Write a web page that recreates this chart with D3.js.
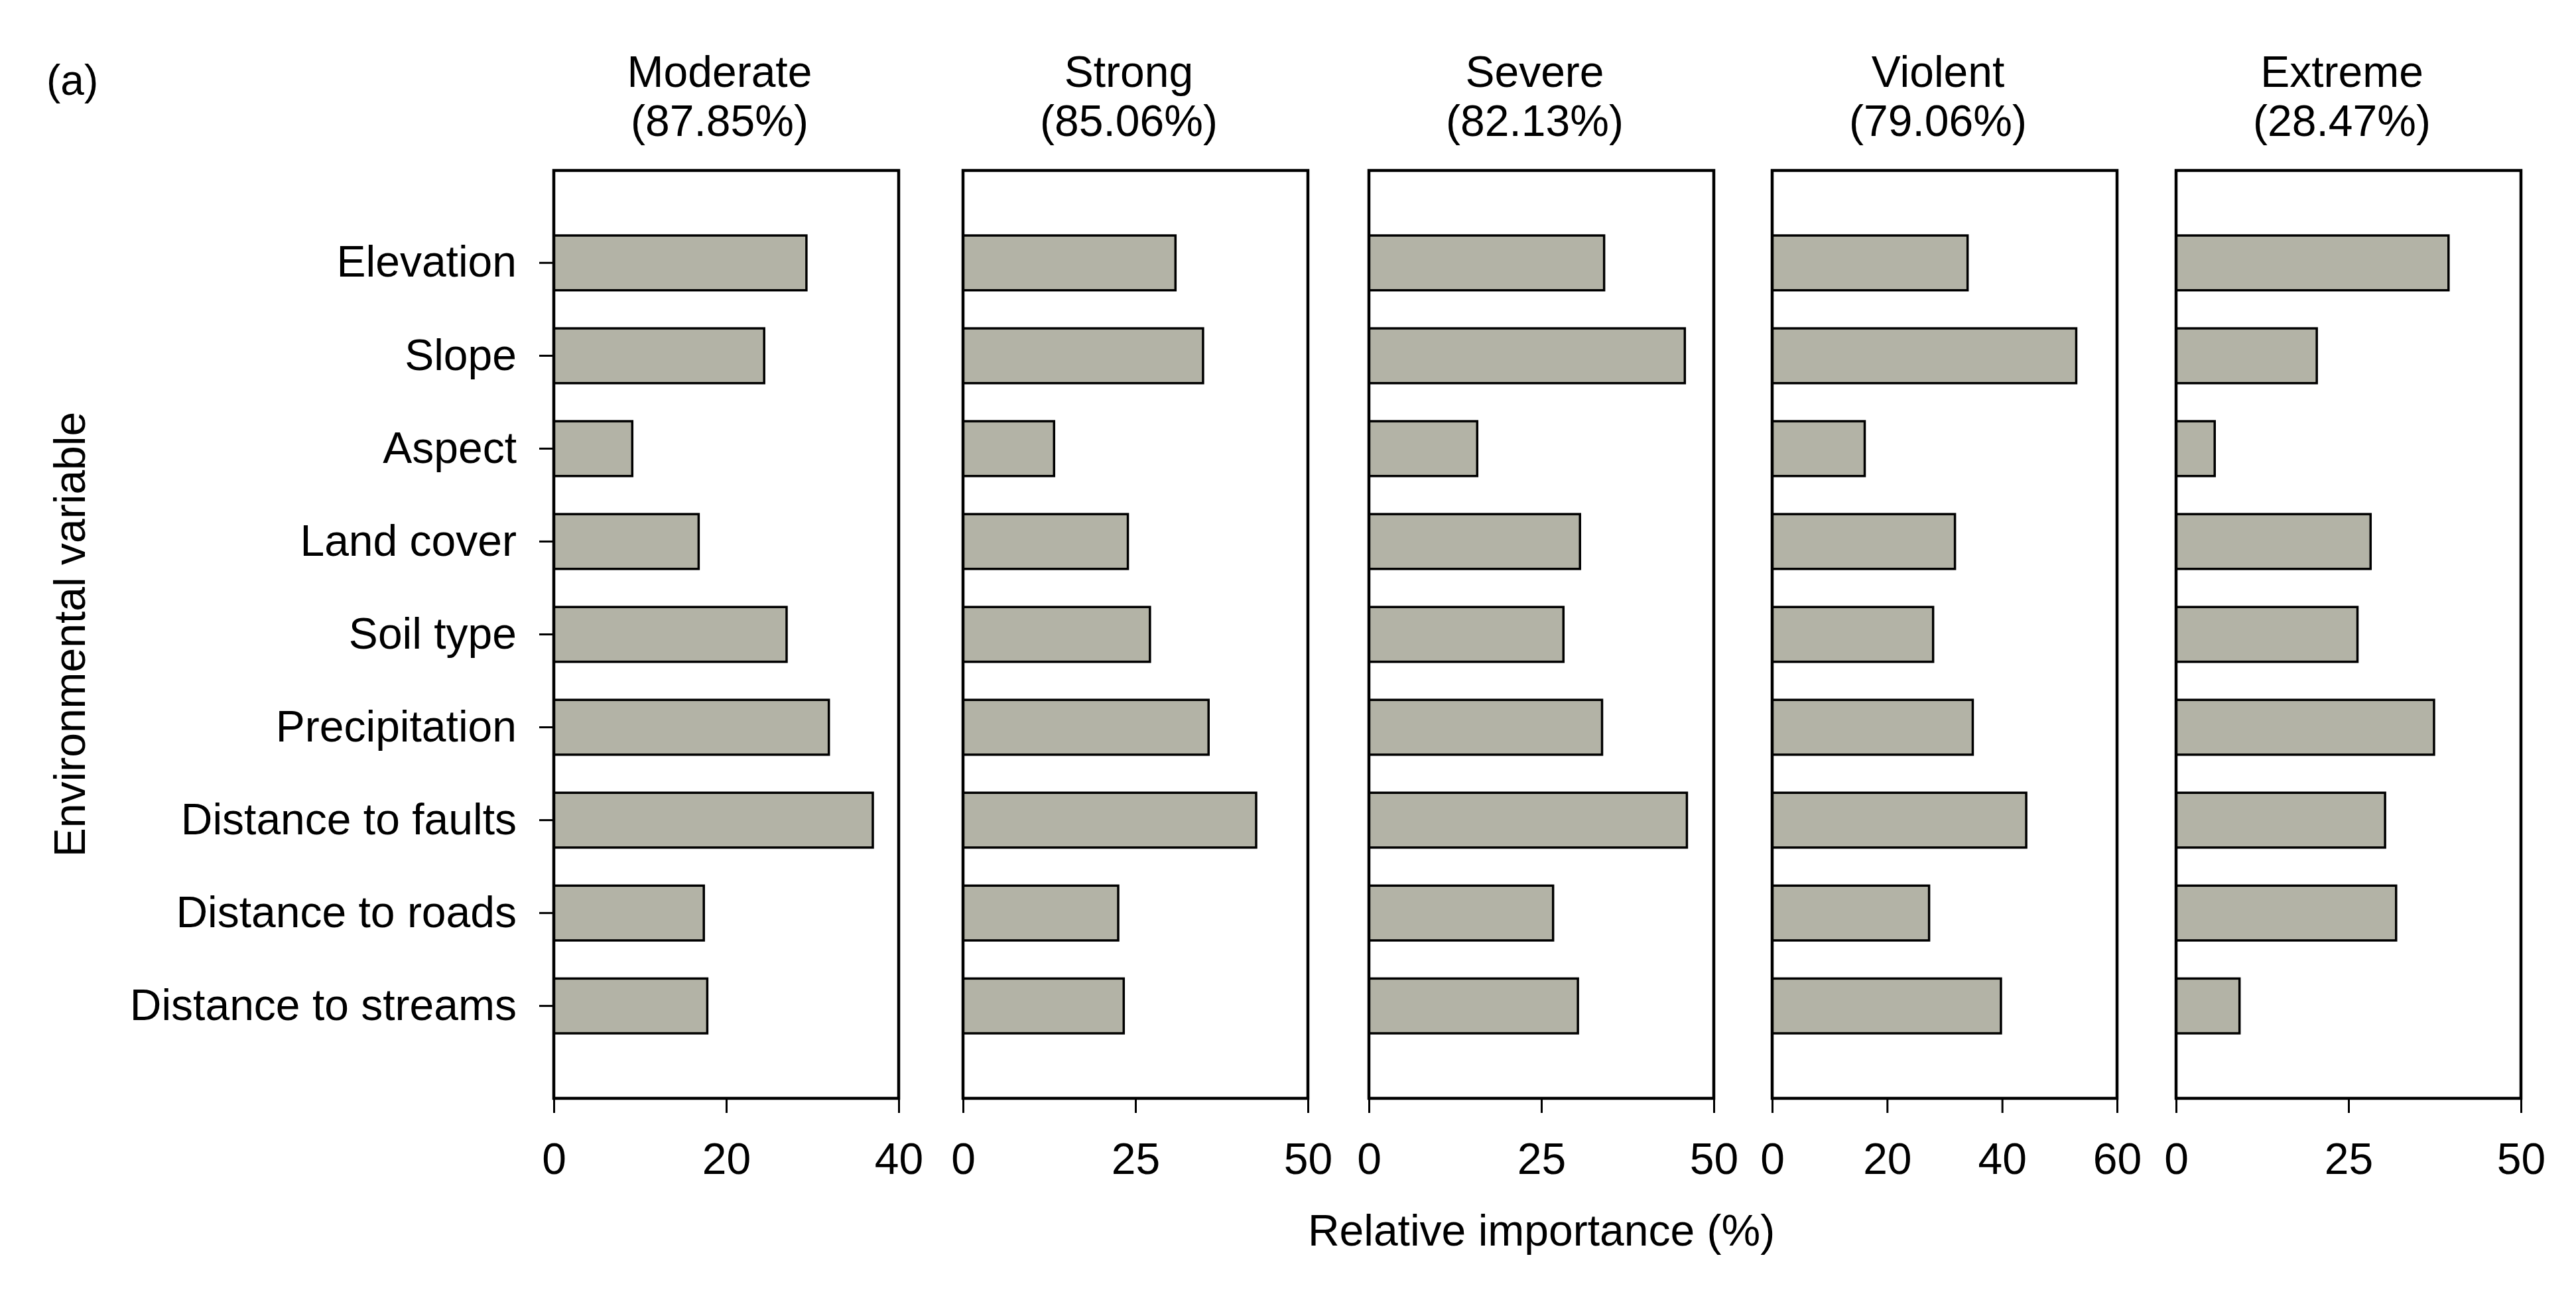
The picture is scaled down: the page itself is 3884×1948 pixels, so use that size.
<!DOCTYPE html>
<html>
<head>
<meta charset="utf-8">
<script src="https://cdn.jsdelivr.net/npm/d3@7"></script>
<style>
  body { margin: 0; background: #fff; }
  text { font-family: "Liberation Sans", Arial, sans-serif; fill: #000; }
</style>
</head>
<body>
<svg id="chart" width="3884" height="1948"></svg>
<script>
// relative importance of environmental variables, one panel per landslide class

const variables = ["Elevation", "Slope", "Aspect", "Land cover", "Soil type",
                   "Precipitation", "Distance to faults", "Distance to roads", "Distance to streams"];
const classes   = ["Moderate", "Strong", "Severe", "Violent", "Extreme"];
const accuracy  = [87.85, 85.06, 82.13, 79.06, 28.47];

const moderate = [29.3, 24.4,  9.1, 16.8, 27.0, 31.9, 37.0, 17.4, 17.8];
const strong   = [30.8, 34.8, 13.2, 23.9, 27.1, 35.6, 42.5, 22.5, 23.3];
const severe   = [34.1, 45.8, 15.7, 30.6, 28.2, 33.8, 46.1, 26.7, 30.3];
const violent  = [34.0, 52.9, 16.1, 31.8, 28.0, 34.9, 44.2, 27.3, 39.8];
const extreme  = [39.5, 20.4,  5.6, 28.2, 26.3, 37.4, 30.3, 31.9,  9.2];

const xMax   = [40, 50, 50, 60, 50];
const xTicks = [[0, 20, 40], [0, 25, 50], [0, 25, 50], [0, 20, 40, 60], [0, 25, 50]];

const series = [moderate, strong, severe, violent, extreme];

// layout
const yTop = 257, yBot = 1656;            // panel box
const pw = 520;                           // panel width
const lefts = [835, 1452, 2064, 2672, 3281];
const fsz = 66;
const barFill = "#b3b3a6";

const svg = d3.select("#chart");
svg.append("rect").attr("width", 3884).attr("height", 1948).attr("fill", "#fff");

const y = d3.scaleBand().domain(variables).range([yTop, yBot])
            .paddingInner(0.41).paddingOuter(0.7);

for (let i = 0; i < classes.length; i++) {
  const g = svg.append("g").attr("transform", "translate(" + lefts[i] + ",0)");
  const x = d3.scaleLinear().domain([0, xMax[i]]).range([0, pw]);
  const rows = variables.map((v, k) => ({name: v, val: series[i][k]}));

  g.selectAll("rect.bar").data(rows).enter().append("rect")
    .attr("class", "bar")
    .attr("x", x(0)).attr("y", d => y(d.name))
    .attr("width", d => x(d.val) - x(0)).attr("height", y.bandwidth())
    .attr("fill", barFill).attr("stroke", "#000").attr("stroke-width", 3.5);

  // frame
  g.append("rect").attr("x", 0).attr("y", yTop).attr("width", pw).attr("height", yBot - yTop)
    .attr("fill", "none").attr("stroke", "#000").attr("stroke-width", 4.5);

  const xa = g.append("g").attr("transform", "translate(0," + yBot + ")")
    .call(d3.axisBottom(x).tickValues(xTicks[i]).tickSize(22).tickPadding(45));
  xa.select(".domain").remove();
  xa.selectAll(".tick line").attr("stroke", "#000").attr("stroke-width", 3);
  xa.selectAll(".tick text").style("font-size", fsz + "px")
    .style("font-family", "'Liberation Sans', Arial, sans-serif").attr("fill", "#000");

  if (i == 0) {
    const ya = g.append("g").call(d3.axisLeft(y).tickSize(22).tickPadding(34));
    ya.select(".domain").remove();
    ya.selectAll(".tick line").attr("stroke", "#000").attr("stroke-width", 3);
    ya.selectAll(".tick text").style("font-size", fsz + "px")
      .style("font-family", "'Liberation Sans', Arial, sans-serif").attr("fill", "#000");
  }

  // class title
  const cx = pw / 2 - 10;
  g.append("text").attr("x", cx).attr("y", 131).attr("text-anchor", "middle")
    .style("font-size", fsz + "px").text(classes[i]);
  g.append("text").attr("x", cx).attr("y", 205).attr("text-anchor", "middle")
    .style("font-size", fsz + "px").text("(" + accuracy[i].toFixed(2) + "%)");
}

svg.append("text").attr("x", 70).attr("y", 143).style("font-size", "64px").text("(a)");

svg.append("text").attr("x", lefts[2] + pw / 2).attr("y", 1878).attr("text-anchor", "middle")
  .style("font-size", fsz + "px").text("Relative importance (%)");

svg.append("text").attr("transform", "translate(128," + (yTop + yBot) / 2 + ") rotate(-90)")
  .attr("text-anchor", "middle").style("font-size", fsz + "px").text("Environmental variable");
</script>
</body>
</html>
